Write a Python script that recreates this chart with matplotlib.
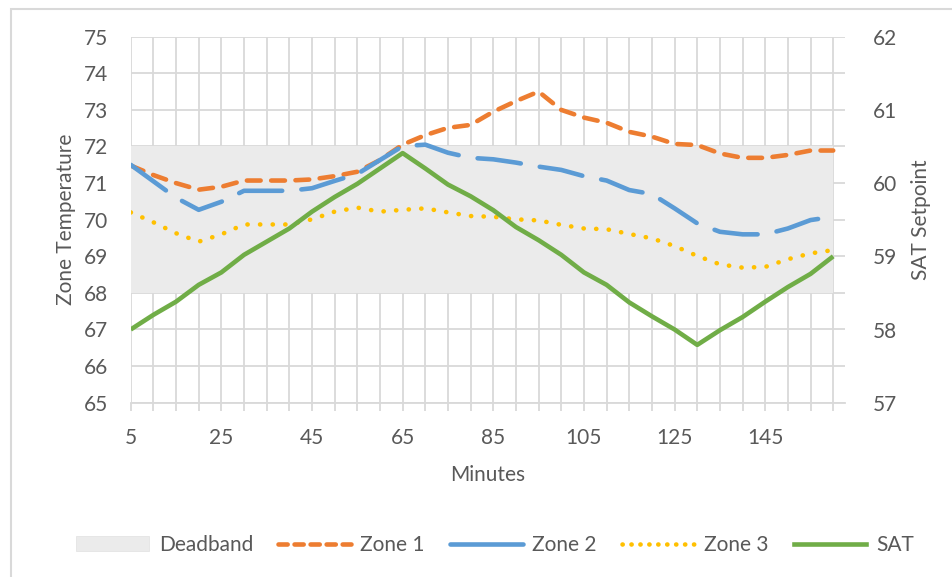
import matplotlib.pyplot as plt
from matplotlib.lines import Line2D
from matplotlib.patches import Patch, Rectangle

plt.rcParams['font.family'] = ['Lato', 'DejaVu Sans']

# minutes, 5..160
minutes = [5, 10, 15, 20, 25, 30, 35, 40, 45, 50, 55, 60, 65, 70, 75, 80,
           85, 90, 95, 100, 105, 110, 115, 120, 125, 130, 135, 140, 145, 150, 155, 160]
xtick_labels = [5, 25, 45, 65, 85, 105, 125, 145]

zone1 = [71.48, 71.22, 71.0, 70.82, 70.9, 71.07, 71.07, 71.07, 71.1, 71.19, 71.31, 71.63,
         72.05, 72.31, 72.51, 72.59, 72.95, 73.24, 73.5, 73.0, 72.79, 72.65, 72.4, 72.27,
         72.07, 72.04, 71.81, 71.69, 71.69, 71.77, 71.89, 71.89]
zone2 = [71.5, 71.05, 70.6, 70.27, 70.49, 70.79, 70.79, 70.79, 70.86, 71.06, 71.25, 71.63,
         72.01, 72.05, 71.83, 71.69, 71.65, 71.56, 71.45, 71.36, 71.19, 71.07, 70.81, 70.7,
         70.31, 69.9, 69.67, 69.6, 69.6, 69.76, 69.99, 70.08]
zone3 = [70.2, 69.93, 69.63, 69.4, 69.6, 69.87, 69.87, 69.87, 70.01, 70.22, 70.33, 70.22,
         70.27, 70.31, 70.2, 70.1, 70.08, 70.01, 69.98, 69.86, 69.76, 69.74, 69.61, 69.49,
         69.28, 69.01, 68.78, 68.69, 68.71, 68.92, 69.08, 69.17]
sat = [58.0, 58.2, 58.38, 58.61, 58.78, 59.02, 59.2, 59.38, 59.61, 59.81, 59.99, 60.2,
       60.41, 60.2, 59.98, 59.82, 59.63, 59.4, 59.22, 59.02, 58.78, 58.61, 58.37, 58.18,
       58.0, 57.79, 57.99, 58.17, 58.38, 58.58, 58.76, 59.0]
deadband_low = 68
deadband_high = 72

txt = '#595959'
grid = '#D9D9D9'
c1, c2, c3, c4 = '#ED7D31', '#5B9BD5', '#FFC000', '#70AD47'
fs = 15

fig = plt.figure(figsize=(9.52, 5.77), dpi=100)
ax = fig.add_axes([130.7 / 952, 1 - 402.7 / 577, (845 - 130.7) / 952, (402.7 - 36.7) / 577])
ax2 = ax.twinx()

ax.fill_between(minutes, deadband_low, deadband_high, color='#EBEBEB', lw=0, zorder=1)

lw = 3.3
ax.plot(minutes, zone1, color=c1, lw=lw, linestyle=(0, (3.0, 2.3)),
        dash_capstyle='round', zorder=3)
ax.plot(minutes, zone2, color=c2, lw=lw, linestyle=(0, (9.5, 4.2)),
        dash_capstyle='round', zorder=3)
ax.plot(minutes, zone3, color=c3, lw=lw, linestyle=(0, (0.05, 2.7)),
        dash_capstyle='round', zorder=3)
ax2.plot(minutes, sat, color=c4, lw=lw, solid_capstyle='butt', zorder=3)

ax.set_xlim(5, 162.6)
ax.set_ylim(65, 75)
ax2.set_ylim(57, 62)
ax.set_yticks(range(65, 76))
ax2.set_yticks(range(57, 63))
ax.set_xticks(minutes)
ax.set_xticklabels([str(m) if m in xtick_labels else '' for m in minutes])

ax.grid(True, color=grid, lw=1.3, zorder=0)
ax.set_axisbelow(True)
for a in (ax, ax2):
    for s in a.spines.values():
        s.set_visible(False)
ax.spines['bottom'].set_visible(True)
ax.spines['bottom'].set_color(grid)
ax.spines['bottom'].set_linewidth(1.3)

ax.tick_params(axis='x', colors=grid, length=5.5, width=1.3, labelcolor=txt,
               labelsize=fs, pad=13)
ax.tick_params(axis='y', length=0, labelcolor=txt, labelsize=fs, pad=16)
ax2.tick_params(axis='y', length=0, labelcolor=txt, labelsize=fs, pad=20)

ax.set_xlabel('Minutes', color=txt, fontsize=fs, labelpad=12)
ax.set_ylabel('Zone Temperature', color=txt, fontsize=fs, labelpad=6)
ax2.set_ylabel('SAT Setpoint', color=txt, fontsize=fs, labelpad=10)

handles = [
    Patch(facecolor='#EBEBEB', edgecolor='#E0E0E0', lw=0.5),
    Line2D([], [], color=c1, lw=lw, linestyle=(0, (2.0, 1.5)), dash_capstyle='round'),
    Line2D([], [], color=c2, lw=lw, solid_capstyle='round'),
    Line2D([], [], color=c3, lw=lw, linestyle=(0, (0.05, 1.9)), dash_capstyle='round'),
    Line2D([], [], color=c4, lw=lw),
]
labels = ['Deadband', 'Zone 1', 'Zone 2', 'Zone 3', 'SAT']
leg = fig.legend(handles, labels, loc='center', bbox_to_anchor=(495 / 952, 1 - 545 / 577),
                 ncol=5, frameon=False, fontsize=fs, handlelength=3.5,
                 handletextpad=0.45, columnspacing=1.2)
for t in leg.get_texts():
    t.set_color(txt)

# chart border (only top/left visible in the crop)
fig.patches.append(Rectangle((11 / 952, -0.1), 1.2, 1 - 9 / 577 + 0.1,
                             transform=fig.transFigure, fill=False,
                             edgecolor=grid, lw=1.5))

fig.savefig('out.png', dpi=100)
